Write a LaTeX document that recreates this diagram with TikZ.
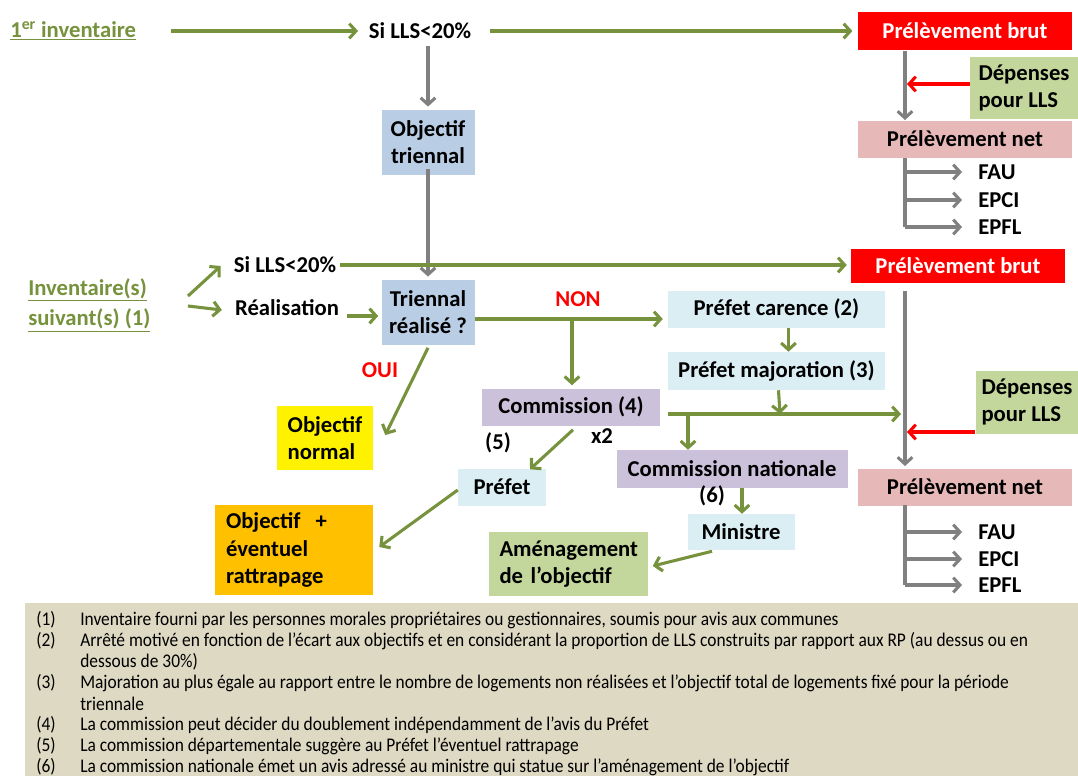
\documentclass[tikz,border=0pt]{standalone}
\usepackage{fontspec}
\setmainfont{Carlito}
\newfontfamily\legfont[FakeStretch=0.9]{Carlito}
\usetikzlibrary{arrows.meta,calc}
\definecolor{ggreen}{RGB}{118,146,60}
\definecolor{ggray}{RGB}{128,128,128}
\definecolor{bblue}{RGB}{185,205,229}
\definecolor{lblue}{RGB}{219,238,244}
\definecolor{ppurple}{RGB}{204,193,218}
\definecolor{ppink}{RGB}{230,185,184}
\definecolor{lgreen}{RGB}{195,214,155}
\definecolor{oorange}{RGB}{255,192,0}
\definecolor{legbg}{RGB}{221,217,195}
\definecolor{rred}{RGB}{255,0,0}
\tikzset{
  lbl/.style={inner sep=0pt, font=\bfseries\fontsize{17}{20.5}\selectfont, text=black},
  fbox/.style n args={4}{lbl, align=#4, fill=#1, minimum width=#2, minimum height=#3},
  gline/.style={draw=ggreen, line width=2.3pt},
  garrow/.style={gline, -{Straight Barb[length=5pt,width=11pt]}},
  grline/.style={draw=ggray, line width=2.3pt},
  grarrow/.style={grline, -{Straight Barb[length=5pt,width=11pt]}},
  rarrow/.style={draw=rred, line width=2.3pt, -{Straight Barb[length=5pt,width=11pt]}},
  redlbl/.style={lbl, text=rred},
  under/.style={inner sep=0pt, font=\bfseries\fontsize{17}{23}\selectfont, text=ggreen, align=left},
  legn/.style={anchor=west, inner sep=0pt, font=\legfont\fontsize{14.5}{16}\selectfont, text=black},
}
\begin{document}
\begin{tikzpicture}[x=0.75pt,y=-0.75pt]
\useasboundingbox[fill=white] (0,0) rectangle (1078,776);
% legend background
\node[fill=legbg, minimum width=1053*0.75pt, minimum height=173*0.75pt, inner sep=0pt, anchor=north west] (legend) at (25,603) {};
% ---------- top row
\node[under, anchor=west] (inv1) at (10,31) {\underline{1\textsuperscript{er} inventaire}};
\node[lbl] (si1) at (420,31) {Si LLS<20\%};
\node[fbox={rred}{214*0.75pt}{38*0.75pt}{center}, text=white] (pbrut1) at (965,31) {Prélèvement brut};
\node[fbox={bblue}{93*0.75pt}{65*0.75pt}{center}] (obtri) at (428,142) {Objectif\\triennal};
\node[fbox={lgreen}{108*0.75pt}{62*0.75pt}{left}] (dep1) at (1024,88) {Dépenses\\pour LLS};
\node[fbox={ppink}{214*0.75pt}{37*0.75pt}{center}] (pnet1) at (965,139) {Prélèvement net};
\node[lbl, anchor=west] (fau1) at (978,172) {FAU};
\node[lbl, anchor=west] (epci1) at (978,200) {EPCI};
\node[lbl, anchor=west] (epfl1) at (978,227) {EPFL};
\coordinate (t1a) at (905,51);
\coordinate (t1b) at (905,120);
\coordinate (t1c) at (905,158);
\coordinate (r1) at (907,84);
% ---------- second part
\node[under, anchor=west] (inv2) at (28,305) {\underline{Inventaire(s)}\\\underline{suivant(s) (1)}};
\node[lbl] (si2) at (285,265) {Si LLS<20\%};
\node[lbl] (real) at (287,308) {Réalisation};
\node[fbox={bblue}{93*0.75pt}{65*0.75pt}{center}] (trir) at (428,312) {Triennal\\réalisé ?};
\node[fbox={rred}{214*0.75pt}{34*0.75pt}{center}, text=white] (pbrut2) at (958,266) {Prélèvement brut};
\node[fbox={lblue}{217*0.75pt}{37*0.75pt}{center}] (pcar) at (776.5,309) {Préfet carence (2)};
\node[redlbl] (non) at (578,299) {NON};
\node[fbox={lblue}{217*0.75pt}{38*0.75pt}{center}] (pmaj) at (776.5,371) {Préfet majoration (3)};
\node[fbox={ppurple}{178*0.75pt}{37*0.75pt}{center}] (com4) at (571,407) {Commission (4)};
\node[lbl] (x2) at (602,436) {x2};
\node[lbl] (five) at (498,443) {(5)};
\node[redlbl] (oui) at (380,370) {OUI};
\node[fbox={yellow}{96*0.75pt}{64*0.75pt}{left}] (objn) at (325,438) {Objectif\\normal};
\node[fbox={lblue}{88*0.75pt}{37*0.75pt}{center}] (prefet) at (502,487) {Préfet};
\node[fbox={oorange}{158*0.75pt}{90*0.75pt}{left}, text width=136*0.75pt] (objr) at (294,550) {Objectif~~+\\éventuel\\rattrapage};
\node[fbox={ppurple}{231*0.75pt}{38*0.75pt}{center}] (comnat) at (732,469) {Commission nationale};
\node[lbl] (six) at (712,496) {(6)};
\node[fbox={lblue}{107*0.75pt}{36*0.75pt}{center}] (ministre) at (741,532) {Ministre};
\node[fbox={lgreen}{159*0.75pt}{64*0.75pt}{left}, text width=137*0.75pt] (amen) at (568,564) {Aménagement\\de l’objectif};
\node[fbox={lgreen}{103*0.75pt}{63*0.75pt}{left}] (dep2) at (1027,402) {Dépenses\\pour LLS};
\node[fbox={ppink}{214*0.75pt}{37*0.75pt}{center}] (pnet2) at (965,487) {Prélèvement net};
\node[lbl, anchor=west] (fau2) at (978,532) {FAU};
\node[lbl, anchor=west] (epci2) at (978,559) {EPCI};
\node[lbl, anchor=west] (epfl2) at (978,585) {EPFL};
\coordinate (t2a) at (905,291);
\coordinate (t2b) at (905,466);
\coordinate (t2c) at (905,505);
\coordinate (r2) at (907,432);
\coordinate (jn) at (572,319);
\coordinate (hl) at (668,414);
\coordinate (hm) at (780,414);
\coordinate (hb) at (688,414);
\coordinate (hr) at (901,414);
\coordinate (s1) at (188,296);
\coordinate (s2) at (188,306);
% ---------- connectors top
\draw[garrow, shorten <=26pt, shorten >=8pt] (inv1) -- (si1);
\draw[garrow, shorten <=14pt, shorten >=4pt] (si1) -- (pbrut1);
\draw[grarrow, shorten <=5pt, shorten >=2pt] (obtri.north |- si1.south) -- (obtri.north);
\draw[grarrow] (t1a) -- (t1b);
\draw[rarrow] (dep1.west |- r1) -- (r1);
\draw[grline] (t1c) -- (905,227);
\foreach \n in {fau1,epci1,epfl1}{
  \draw[grarrow, shorten >=12pt] (t1c |- \n.west) -- (\n.west);
}
\draw[grarrow, shorten >=2pt] ([shift={(0,-6)}]obtri.south) -- (trir.north);
% ---------- connectors bottom
\draw[garrow] (s1) -- ([shift={(-13,1)}]si2.west);
\draw[garrow] (s2) -- ([shift={(-13,2)}]real.west);
\draw[garrow, shorten <=3pt, shorten >=3pt] (si2.east) -- (si2.east -| pbrut2.west);
\draw[garrow] ([shift={(8,8)}]real.east) -- ([shift={(-3,4)}]trir.west);
\draw[gline] (trir.east |- jn) -- (jn);
\draw[garrow] (jn) -- ([shift={(-5,0)}]pcar.west |- jn);
\draw[garrow] (jn) -- ([shift={(0,-3)}]jn |- com4.north);
\draw[garrow] ([shift={(0,3)}]trir.south) -- ([shift={(12,-3)}]objn.east);
\draw[garrow] ([shift={(2,4)}]com4.south) -- ([shift={(28,1)}]prefet.north);
\draw[garrow] ([shift={(0,3)}]prefet.west) -- ([shift={(6,-3)}]objr.east);
\draw[garrow] ([shift={(12,0)}]pcar.south) -- ([shift={(12,0)}]pmaj.north);
\draw[garrow] ([shift={(2,0)}]pmaj.south) -- (hm);
\draw[garrow] (hl) -- (hr);
\draw[garrow] (hb) -- (hb |- comnat.north);
\draw[garrow] ([shift={(10,0)}]comnat.south) -- ([shift={(1,0)}]ministre.north);
\draw[garrow] ([shift={(-29,1)}]ministre.south) -- ([shift={(5,2)}]amen.east);
\draw[grarrow] (t2a) -- (t2b);
\draw[rarrow] (dep2.west |- r2) -- (r2);
\draw[grline] (t2c) -- (905,585);
\foreach \n in {fau2,epci2,epfl2}{
  \draw[grarrow, shorten >=12pt] (t2c |- \n.west) -- (\n.west);
}
% ---------- legend
\foreach \y/\n/\t in {620/1/{Inventaire fourni par les personnes morales propriétaires ou gestionnaires, soumis pour avis aux communes},
  641/2/{Arrêté motivé en fonction de l’écart aux objectifs et en considérant la proportion de LLS  construits par rapport aux RP (au dessus ou en},
  683/3/{Majoration au plus égale au rapport entre le nombre de logements non réalisées et l’objectif total de logements fixé pour la période},
  725/4/{La commission peut décider du doublement indépendamment de l’avis du Préfet},
  746/5/{La commission départementale suggère au Préfet l’éventuel rattrapage},
  767/6/{La commission nationale émet un avis adressé au ministre qui statue sur l’aménagement de l’objectif}}{
  \node[legn] (ln\n) at (36,\y) {(\n)};
  \node[legn] (lt\n) at (80,\y) {\t};
}
\node[legn] (lt2b) at (80,662) {dessous de 30\%)};
\node[legn] (lt3b) at (80,704) {triennale};
\end{tikzpicture}
\end{document}
